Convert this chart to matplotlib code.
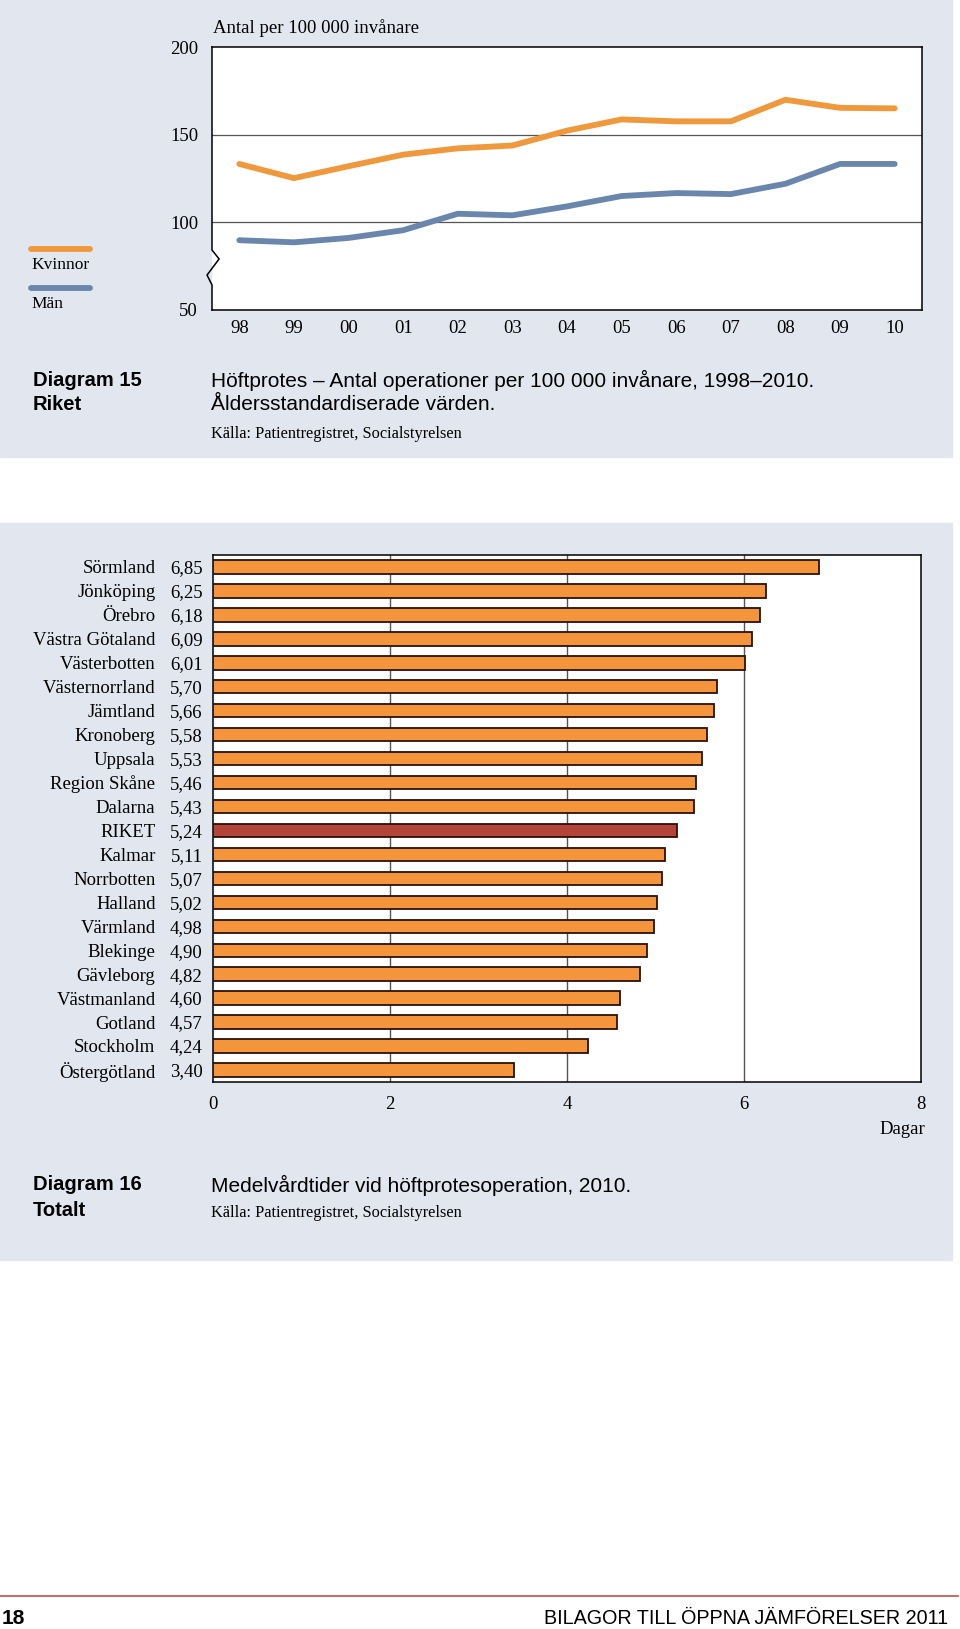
import matplotlib
matplotlib.use("Agg")
import matplotlib.pyplot as plt
from matplotlib.lines import Line2D
from matplotlib.patches import Rectangle

# ---- data: diagram 15 ----
years = ["98", "99", "00", "01", "02", "03", "04", "05", "06", "07", "08", "09", "10"]
kvinnor = [133.3, 125.2, 132.0, 138.6, 142.2, 143.8, 152.3, 158.7, 157.6, 157.6, 169.9, 165.3, 165.0]
man = [89.8, 88.6, 91.1, 95.5, 104.9, 104.0, 109.1, 115.0, 116.7, 116.1, 122.0, 133.3, 133.3]
yticks_top = [50, 100, 150, 200]

# ---- data: diagram 16 ----
lan = ["Sörmland", "Jönköping", "Örebro", "Västra Götaland", "Västerbotten", "Västernorrland",
       "Jämtland", "Kronoberg", "Uppsala", "Region Skåne", "Dalarna", "RIKET", "Kalmar",
       "Norrbotten", "Halland", "Värmland", "Blekinge", "Gävleborg", "Västmanland", "Gotland",
       "Stockholm", "Östergötland"]
dagar = [6.85, 6.25, 6.18, 6.09, 6.01, 5.70, 5.66, 5.58, 5.53, 5.46, 5.43, 5.24, 5.11,
         5.07, 5.02, 4.98, 4.90, 4.82, 4.60, 4.57, 4.24, 3.40]
xticks_bot = [0, 2, 4, 6, 8]

W, H = 960, 1629
SERIF = "Liberation Serif"
SANS = "Liberation Sans"
BG = "#e2e6ef"
ORANGE = "#f0983c"
BLUE = "#6a86ad"
BAR = "#f5953b"
RIKET_C = "#b3443a"
FS_SERIF = 13.5
FS_SANS = 14.5

fig = plt.figure(figsize=(W / 100, H / 100), dpi=100)
fig.patch.set_facecolor("white")


def fx(x):
    return x / W


def fy(y):
    return 1 - y / H


def box(l, t, r, b):
    return [fx(l), fy(b), fx(r) - fx(l), fy(t) - fy(b)]


def ftext(x, y, s, **kw):
    fig.text(fx(x), fy(y), s, **kw)


# panel backgrounds
fig.patches.append(Rectangle((fx(0), fy(457)), fx(952), fy(0) - fy(457),
                             transform=fig.transFigure, color=BG, zorder=-10))
fig.patches.append(Rectangle((fx(0), fy(1260)), fx(952), fy(523) - fy(1260),
                             transform=fig.transFigure, color=BG, zorder=-10))

# ---------------- diagram 15 (line chart) ----------------
ax = fig.add_axes(box(212, 47, 922, 310))
ax.set_facecolor("white")
xs = list(range(len(years)))
ax.plot(xs, kvinnor, color=ORANGE, lw=4.2, solid_capstyle="round", zorder=3)
ax.plot(xs, man, color=BLUE, lw=4.2, solid_capstyle="round", zorder=3)
ax.set_xlim(-0.5, len(years) - 0.5)
ax.set_ylim(50, 200)
ax.set_yticks(yticks_top)
ax.set_yticklabels([str(v) for v in yticks_top], family=SERIF, fontsize=FS_SERIF)
ax.set_xticks(xs)
ax.set_xticklabels(years, family=SERIF, fontsize=FS_SERIF)
ax.tick_params(length=0, pad=7)
ax.tick_params(axis="y", pad=10)
for v in [100, 150]:
    ax.axhline(v, color="#555555", lw=0.9, zorder=1)
for s in ["top", "right", "bottom"]:
    ax.spines[s].set_color("black")
    ax.spines[s].set_linewidth(1.1)
ax.spines["left"].set_visible(False)
# left axis with break mark
ax.plot([0, 0, -0.007, 0.010, 0, 0], [0, 0.095, 0.133, 0.194, 0.228, 1],
        transform=ax.transAxes, color="black", lw=1.1, clip_on=False, zorder=5)

ftext(213, 28, "Antal per 100 000 invånare", family=SERIF, fontsize=FS_SERIF, va="center")

# legend
fig.add_artist(Line2D([fx(31), fx(90)], [fy(249), fy(249)], color=ORANGE, lw=4.2,
                      solid_capstyle="round"))
ftext(31, 265, "Kvinnor", family=SERIF, fontsize=12.5, va="center")
fig.add_artist(Line2D([fx(31), fx(90)], [fy(288), fy(288)], color=BLUE, lw=4.2,
                      solid_capstyle="round"))
ftext(31, 304, "Män", family=SERIF, fontsize=12.5, va="center")

# caption 15
ftext(33, 380, "Diagram 15", family=SANS, fontsize=FS_SANS, weight="bold", va="center")
ftext(33, 405, "Riket", family=SANS, fontsize=FS_SANS, weight="bold", va="center")
ftext(211, 380, "Höftprotes – Antal operationer per 100 000 invånare, 1998–2010.",
      family=SANS, fontsize=15, va="center")
ftext(211, 405, "Åldersstandardiserade värden.", family=SANS, fontsize=15, va="center")
ftext(211, 434, "Källa: Patientregistret, Socialstyrelsen", family=SERIF, fontsize=11.8,
      va="center")

# ---------------- diagram 16 (bar chart) ----------------
bx = fig.add_axes(box(213, 555, 921, 1082))
bx.set_facecolor("white")
ys = list(range(len(lan)))
colors = [RIKET_C if n == "RIKET" else BAR for n in lan]
bx.barh(ys, dagar, height=0.56, color=colors, edgecolor="#2a1208", linewidth=1.3, zorder=3)
bx.set_ylim(len(lan) - 0.5, -0.5)
bx.set_xlim(0, 8)
bx.set_xticks(xticks_bot)
bx.set_xticklabels([str(v) for v in xticks_bot], family=SERIF, fontsize=FS_SERIF)
bx.set_yticks([])
bx.tick_params(length=0, pad=10)
for v in xticks_bot[1:-1]:
    bx.axvline(v, color="#555555", lw=1.0, zorder=1)
for s in bx.spines.values():
    s.set_color("black")
    s.set_linewidth(1.1)
for y, n, d in zip(ys, lan, dagar):
    bx.text(-0.65, y + 0.08, n, family=SERIF, fontsize=FS_SERIF, ha="right", va="center")
    bx.text(-0.12, y + 0.08, f"{d:.2f}".replace(".", ","), family=SERIF, fontsize=FS_SERIF,
            ha="right", va="center")
ftext(925, 1130, "Dagar", family=SERIF, fontsize=FS_SERIF, ha="right", va="center")

# caption 16
ftext(33, 1185, "Diagram 16", family=SANS, fontsize=FS_SANS, weight="bold", va="center")
ftext(33, 1211, "Totalt", family=SANS, fontsize=FS_SANS, weight="bold", va="center")
ftext(211, 1185, "Medelvårdtider vid höftprotesoperation, 2010.", family=SANS,
      fontsize=15, va="center")
ftext(211, 1213, "Källa: Patientregistret, Socialstyrelsen", family=SERIF, fontsize=11.8,
      va="center")

# footer
fig.add_artist(Line2D([fx(0), fx(958)], [fy(1596), fy(1596)], color="#c0504d", lw=1.2))
ftext(2, 1619, "18", family=SANS, fontsize=15, weight="bold", va="center")
ftext(948, 1619, "BILAGOR TILL ÖPPNA JÄMFÖRELSER 2011", family=SANS, fontsize=14.2,
      ha="right", va="center")

fig.savefig("out.png", dpi=100, facecolor="white")
